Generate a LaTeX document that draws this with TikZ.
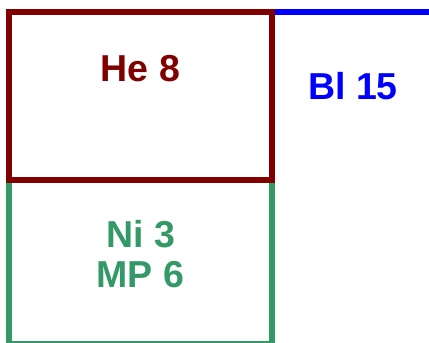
\documentclass[tikz,border=0pt]{standalone}
\usepackage{fontspec}
\setmainfont{Liberation Sans}
\usepackage{tikz}
\definecolor{hecolor}{RGB}{128,0,0}
\definecolor{nicolor}{RGB}{51,153,102}
\definecolor{blcolor}{RGB}{0,0,255}
\newcommand{\boxwidth}{263.5pt}
\tikzstyle{region}=[draw, line width=6pt, inner sep=0, outer sep=0, minimum width=\boxwidth]
\tikzstyle{label}=[inner sep=0, outer sep=0, text depth=0pt, font=\bfseries\fontsize{37.5}{39.6}\selectfont]
\tikzstyle{cutplane}=[x=1pt, y=-1pt]

\begin{document}
\begin{tikzpicture}[cutplane]
        % Fix the page to the reference size.
        \useasboundingbox (0, 0) rectangle (429, 343);
        \clip (0, 0) rectangle (429, 343);
        \coordinate (blend) at (429, 12);
        \node[region, draw=nicolor, minimum height=163.8pt] (ni) at (140.25, 261.8) {};
        \node[region, draw=hecolor, minimum height=167.7pt] (he) at (140.25, 95.85) {};
        \draw[blcolor, line width=6pt] (he.north east) ++(3pt, 0) -- (blend);
        \node[label, text=hecolor] (helabel) at (140.5, 68.9) {He 8};
        \node[label, text=blcolor] (bllabel) at (353, 86.2) {Bl 15};
        \node[label, text=nicolor, align=center] (nilabel) at (140.5, 254) {Ni 3\\MP 6};
    \end{tikzpicture}
\end{document}
